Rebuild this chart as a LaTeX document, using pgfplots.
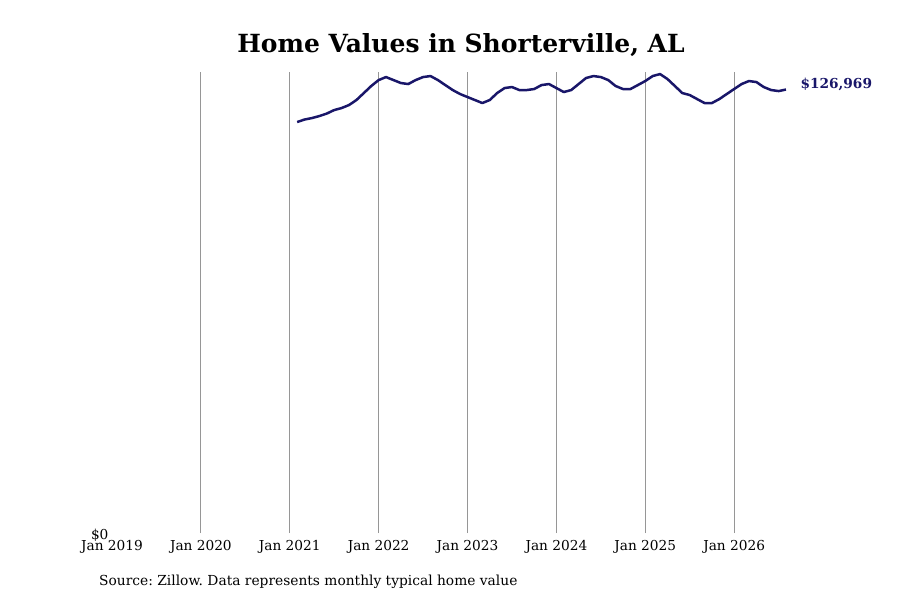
\documentclass[border=0pt]{standalone}
\usepackage{pgfplots}
\pgfplotsset{compat=1.18}
\usepackage{fontspec}
\setmainfont{DejaVu Serif}
\frenchspacing
\definecolor{navyline}{RGB}{25,22,105}
\definecolor{gridgray}{RGB}{150,150,150}

% monthly typical home value, month index 0 = Jan 2019
\pgfplotstableread{
m val
25 117670
26 118390
27 118810
28 119390
29 120100
30 121100
31 121680
32 122540
33 123970
34 125970
35 127980
36 129690
37 130550
38 129690
39 128840
40 128550
41 129690
42 130550
43 130840
44 129690
45 128260
46 126830
47 125690
48 124830
49 123970
50 123110
51 123970
52 125970
53 127400
54 127690
55 126830
56 126830
57 127120
58 128260
59 128550
60 127400
61 126260
62 126830
63 128550
64 130270
65 130840
66 130550
67 129690
68 127980
69 127120
70 127120
71 128260
72 129410
73 130840
74 131410
75 129980
76 127980
77 125970
78 125400
79 124250
80 123110
81 123110
82 124250
83 125690
84 127120
85 128550
86 129410
87 129120
88 127690
89 126830
90 126540
91 126969
}\homevalues

\begin{document}
\begin{tikzpicture}
\useasboundingbox (-112pt,-67pt) rectangle (788pt,533pt);
\begin{axis}[
  scale only axis,
  width=674pt, height=461pt,
  xmin=0, xmax=91,
  ymin=0, ymax=132000,
  axis line style={draw=none},
  major tick length=0pt,
  scaled y ticks=false,
  xtick={12,24,36,48,60,72,84},
  xticklabels={Jan 2020,Jan 2021,Jan 2022,Jan 2023,Jan 2024,Jan 2025,Jan 2026},
  extra x ticks={0},
  extra x tick labels={Jan 2019},
  extra x tick style={grid=none},
  xmajorgrids=true,
  grid style={gridgray, line width=0.8pt},
  ytick={0},
  yticklabels={\$0},
  tick label style={font=\fontsize{13.7}{16}\selectfont},
  xticklabel style={yshift=-3.5pt},
  yticklabel style={xshift=0pt, yshift=-2pt},
  clip=false,
]
\addplot[navyline, line width=2.5pt, line join=round] table[x=m, y=val] {\homevalues};
\node[anchor=west, text=navyline, font=\fontsize{13.7}{16}\selectfont\bfseries]
  at (axis cs:91,126969) [xshift=11pt, yshift=5pt] {\$126,969};
\end{axis}
\node[font=\fontsize{25}{30}\selectfont\bfseries] at (349pt,488pt) {Home Values in Shorterville, AL};
\node[anchor=west, font=\fontsize{13.8}{16}\selectfont, inner sep=0pt] at (-13pt,-49pt)
  {Source: Zillow. Data represents monthly typical home value};
\end{tikzpicture}
\end{document}
